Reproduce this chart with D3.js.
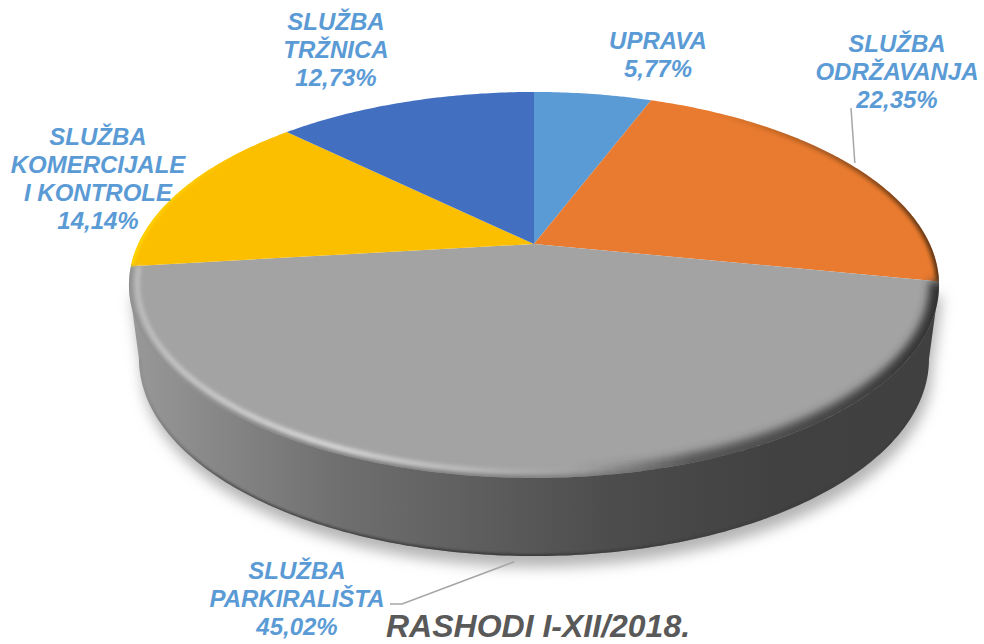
<!DOCTYPE html>
<html>
<head>
<meta charset="utf-8">
<title>Rashodi I-XII/2018.</title>
<script src="https://cdnjs.cloudflare.com/ajax/libs/d3/7.8.5/d3.min.js"></script>
<style>
  html, body { margin: 0; padding: 0; background: #fff; overflow: hidden; }
  svg { display: block; }
  text { font-family: "Liberation Sans", Arial, sans-serif; font-weight: bold; font-style: italic; }
</style>
</head>
<body>
<script>
// data, clockwise from 12 o'clock
var categories = [
  ["UPRAVA"],
  ["SLUŽBA", "ODRŽAVANJA"],
  ["SLUŽBA", "PARKIRALIŠTA"],
  ["SLUŽBA", "KOMERCIJALE", "I KONTROLE"],
  ["SLUŽBA", "TRŽNICA"]
];
var values = [5.77, 22.35, 45.02, 14.14, 12.73];
var sliceColors = ["#5a9ad5", "#e97b30", "#a3a3a3", "#fbbf00", "#426fc0"];
var title = "RASHODI I-XII/2018.";

var width = 984;
var height = 644;

// label centre x and first baseline y
var labelX = [658, 897, 297, 98, 336];
var labelY = [49, 52, 579, 145, 30];
var lineGap = 28;

var svg = d3.select("body").append("svg")
  .attr("width", width)
  .attr("height", height);

// the pie is tilted, so the disc goes through a perspective map
var ox = 534; // apex x
var oy = 244; // apex y
var sx = 395.8;
var sy = 132.5;
var persp = -0.2124;

function project(angle, r) {
  var u = r * Math.sin(angle);
  var v = -r * Math.cos(angle);
  var w = persp * v + 1;
  return [ox + sx * u / w, (sy * v + oy) / w];
}

function arcPoints(a0, a1, r) {
  var n = Math.max(2, Math.ceil((a1 - a0) * 80));
  return d3.range(n + 1).map(function(i) {
    return project(a0 + (a1 - a0) * i / n, r);
  });
}

var line = d3.line();
var pie = d3.pie().sort(null).value(function(d) { return d; });
var slices = pie(values);

// lower edge of the wall
var baseX = 534, baseY = 359, baseRx = 395, baseRy = 197;
var wallDepth = 78;

function basePoints() {
  return d3.range(0, 201).map(function(i) {
    var t = i / 200 * Math.PI;
    return [baseX + baseRx * Math.cos(t), baseY + baseRy * Math.sin(t)];
  });
}

var topOutline = arcPoints(0, Math.PI * 2, 1);
var leftWide = d3.least(topOutline, function(p) { return p[0]; });
var rightWide = d3.greatest(topOutline, function(p) { return p[0]; });
var wallPoints = [rightWide].concat(basePoints()).concat([leftWide]);

var defs = svg.append("defs");

function addBlur(id, dev) {
  defs.append("filter").attr("id", id)
    .attr("x", "-10%").attr("y", "-10%").attr("width", "120%").attr("height", "120%")
    .append("feGaussianBlur").attr("stdDeviation", dev);
}
addBlur("blur1", 1);
addBlur("blur2", 2);
addBlur("blur4", 4);
addBlur("blur7", 7);

function addGradient(id, stops) {
  var g = defs.append("linearGradient").attr("id", id)
    .attr("gradientUnits", "userSpaceOnUse")
    .attr("x1", 129).attr("x2", 939).attr("y1", 0).attr("y2", 0);
  stops.forEach(function(s) {
    g.append("stop")
      .attr("offset", s[0])
      .attr("stop-color", s[1])
      .attr("stop-opacity", s[2] === undefined ? 1 : s[2]);
  });
}

addGradient("wallGradient", [
  [0, "#999999"], [0.09, "#8a8a8a"], [0.26, "#6f6f6f"], [0.42, "#5f5f5f"],
  [0.6, "#4c4c4c"], [0.8, "#414141"], [1, "#404040"]
]);
addGradient("baseLine", [
  [0, "#333333", 0], [0.12, "#333333", 0.6], [0.5, "#333333", 0.8], [0.8, "#333333", 0.2], [1, "#333333", 0]
]);
addGradient("highlight", [
  [0, "#d0d0d0", 0.7], [0.1, "#d8d8d8", 0.9], [0.25, "#e8e8e8", 1], [0.42, "#d8d8d8", 0.6], [0.55, "#c8c8c8", 0]
]);
addGradient("rimDark", [
  [0.55, "#3c3c3c", 0], [0.7, "#3c3c3c", 0.75], [1, "#333333", 1]
]);
addGradient("rimEdge", [
  [0, "#8c8c8c", 0.9], [0.3, "#767676", 0.8], [0.55, "#5c5c5c", 0.5], [0.7, "#444444", 0]
]);
addGradient("orangeRim", [
  [0.72, "#5c3410", 0], [0.9, "#5c3410", 0.7], [1, "#4a2a0c", 1]
]);
addGradient("yellowRim", [
  [0, "#ffd400", 1], [0.16, "#ffd000", 0]
]);

defs.append("clipPath").attr("id", "topClip")
  .append("path").attr("d", line(topOutline) + "Z");
defs.append("clipPath").attr("id", "wallClip")
  .append("path").attr("d", line(wallPoints) + "Z");

// soft shadow under the disc
svg.append("path")
  .attr("d", line(wallPoints) + "Z")
  .attr("transform", "translate(3,11)")
  .attr("fill", "#b4b4b4")
  .attr("filter", "url(#blur7)");

// side wall
svg.append("path")
  .attr("d", line(wallPoints) + "Z")
  .attr("fill", "url(#wallGradient)");

// dark line along the bottom of the wall
svg.append("g").attr("clip-path", "url(#wallClip)")
  .append("path")
  .attr("d", line(basePoints()))
  .attr("fill", "none")
  .attr("stroke", "url(#baseLine)")
  .attr("stroke-width", 4)
  .attr("filter", "url(#blur1)");

// top surface, one path per slice
svg.append("g").selectAll("path")
  .data(slices)
  .enter().append("path")
  .attr("d", function(d) {
    return line([[ox, oy]].concat(arcPoints(d.startAngle, d.endAngle, 1))) + "Z";
  })
  .attr("fill", function(d, i) { return sliceColors[i]; });

// bevel along the rim, drawn inside the top surface only
var bevel = svg.append("g").attr("clip-path", "url(#topClip)");
var grey = slices[2];

bevel.append("path")
  .attr("d", line(arcPoints(slices[1].startAngle, slices[1].endAngle, 1)))
  .attr("fill", "none").attr("stroke", "url(#orangeRim)").attr("stroke-width", 6)
  .attr("filter", "url(#blur2)");

bevel.append("path")
  .attr("d", line(arcPoints(slices[3].startAngle, slices[3].endAngle, 1)))
  .attr("fill", "none").attr("stroke", "url(#yellowRim)").attr("stroke-width", 6)
  .attr("filter", "url(#blur1)");

bevel.append("path")
  .attr("d", line(arcPoints(grey.startAngle, grey.endAngle, 1)))
  .attr("fill", "none").attr("stroke", "url(#rimDark)").attr("stroke-width", 20)
  .attr("filter", "url(#blur4)");

bevel.append("path")
  .attr("d", line(arcPoints(grey.startAngle, grey.endAngle, 1)))
  .attr("fill", "none").attr("stroke", "url(#rimEdge)").attr("stroke-width", 6)
  .attr("filter", "url(#blur2)");

bevel.append("path")
  .attr("d", line(arcPoints(grey.startAngle, grey.endAngle, 0.98)))
  .attr("fill", "none").attr("stroke", "url(#highlight)").attr("stroke-width", 4)
  .attr("filter", "url(#blur2)");

// leader lines, they start at the middle of their slice's rim
function midAngle(d) { return (d.startAngle + d.endAngle) / 2; }

var orangeEnd = project(midAngle(slices[1]), 1);
var greyEnd = project(midAngle(slices[2]), 1);
var leaders = [
  [[orangeEnd[0] + 7, orangeEnd[1]], [851, 108]],
  [[greyEnd[0], greyEnd[1] + wallDepth + 6], [402, 604], [390, 604]]
];

svg.append("g").selectAll("path")
  .data(leaders)
  .enter().append("path")
  .attr("d", function(d) { return line(d); })
  .attr("fill", "none")
  .attr("stroke", "#a6a6a6")
  .attr("stroke-width", 1.5);

// labels
var pct = d3.format(".2f");
var labels = svg.append("g").selectAll("text")
  .data(slices)
  .enter().append("text")
  .attr("text-anchor", "middle")
  .attr("font-size", 24)
  .attr("fill", "#5b9bd5");

labels.each(function(d, i) {
  var lines = categories[i].concat([pct(d.value).replace(".", ",") + "%"]);
  d3.select(this).selectAll("tspan")
    .data(lines)
    .enter().append("tspan")
    .attr("x", labelX[i])
    .attr("y", function(t, j) { return labelY[i] + j * lineGap; })
    .text(function(t) { return t; });
});

svg.append("text")
  .attr("x", 386)
  .attr("y", 637)
  .attr("font-size", 32)
  .attr("fill", "#595959")
  .text(title);
</script>
</body>
</html>
